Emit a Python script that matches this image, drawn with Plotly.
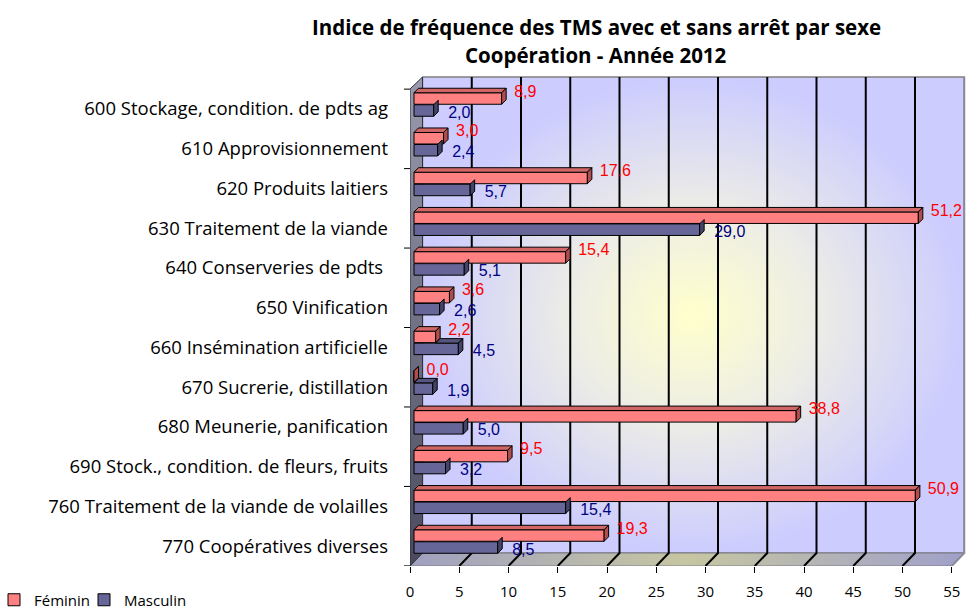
import plotly.graph_objects as go

categories = [
    "600 Stockage, condition. de pdts ag",
    "610 Approvisionnement",
    "620 Produits laitiers",
    "630 Traitement de la viande",
    "640 Conserveries de pdts ",
    "650 Vinification",
    "660 Insémination artificielle",
    "670 Sucrerie, distillation",
    "680 Meunerie, panification",
    "690 Stock., condition. de fleurs, fruits",
    "760 Traitement de la viande de volailles",
    "770 Coopératives diverses",
]
feminin = [8.9, 3.0, 17.6, 51.2, 15.4, 3.6, 2.2, 0.0, 38.8, 9.5, 50.9, 19.3]
masculin = [2.0, 2.4, 5.7, 29.0, 5.1, 2.6, 4.5, 1.9, 5.0, 3.2, 15.4, 8.5]
x_ticks = [0, 5, 10, 15, 20, 25, 30, 35, 40, 45, 50, 55]
title_lines = ["Indice de fréquence des TMS avec et sans arrêt par sexe",
               "Coopération - Année 2012"]

# ---- geometry (pixels -> axis units) ----
W, H = 968, 612
PL, PT, PB = 410, 70, 566          # plot left / top / bottom in px
PW, PH = W - PL, PB - PT
SX = 9.85                          # px per x unit
X_MAX = PW / SX
Y0, SY = 109.0, 39.73              # px of first category centre, px per category

def uy(px):
    return (px - Y0) / SY

def ux(px):
    return px / SX

Y_TOP_R, Y_BOT_R = uy(PT), uy(PB)
FRONT, BACK = uy(566), uy(553)
TOP, TOPF = uy(77), uy(89)
DX = ux(12.5)
AXMAX = x_ticks[-1]

BASE = ux(4)            # bars sit slightly behind the front edge
BW = 11.5 / SY          # bar thickness
OFF_F = -10.5 / SY
OFF_M = 1.5 / SY
DDX, DDY = ux(4.5), 4.5 / SY   # bar depth

idx = list(range(len(categories)))
yf = [i + OFF_F for i in idx]
ym = [i + OFF_M for i in idx]

RED, RED_TOP, RED_SIDE = "#FF8080", "#D06666", "#B04E4E"
BLU, BLU_TOP, BLU_SIDE = "#666699", "#55557F", "#44446A"

fig = go.Figure()

# back wall with radial gradient
fig.add_trace(go.Scatter(
    x=[DX, AXMAX + DX, AXMAX + DX, DX, DX],
    y=[TOP, TOP, BACK, BACK, TOP],
    mode="lines", line=dict(color="#808080", width=1.5),
    fill="toself",
    fillgradient=dict(type="radial",
                      colorscale=[[0, "#FFFFCC"], [0.45, "#EDEDE6"], [1, "#CCCCFF"]]),
    hoverinfo="skip", showlegend=False))

# floor
fig.add_trace(go.Scatter(
    x=[0, AXMAX, AXMAX + DX, DX, 0],
    y=[FRONT, FRONT, BACK, BACK, FRONT],
    mode="lines", line=dict(color="#7A7A8A", width=1),
    fill="toself",
    fillgradient=dict(type="horizontal",
                      colorscale=[[0, "#A0A0C0"], [0.5, "#C6C6A2"], [1, "#A0A0CA"]]),
    hoverinfo="skip", showlegend=False))

# left wall
fig.add_trace(go.Scatter(
    x=[0, 0, DX, DX, 0],
    y=[FRONT, TOPF, TOP, BACK, FRONT],
    mode="lines", line=dict(color="#303040", width=1),
    fill="toself",
    fillgradient=dict(type="vertical",
                      colorscale=[[0, "#4A4A5C"], [1, "#9A9AAE"]]),
    hoverinfo="skip", showlegend=False))

# grid lines (floor diagonals + wall verticals)
gx, gy = [], []
for v in x_ticks[1:-1]:
    gx += [v, v + DX, v + DX, None]
    gy += [FRONT, BACK, TOP, None]
fig.add_trace(go.Scatter(x=gx, y=gy, mode="lines",
                         line=dict(color="#000000", width=2),
                         hoverinfo="skip", showlegend=False))
# right edge of the wall / floor
fig.add_trace(go.Scatter(x=[AXMAX, AXMAX + DX, AXMAX + DX], y=[FRONT, BACK, TOP],
                         mode="lines", line=dict(color="#8A8A9A", width=2),
                         hoverinfo="skip", showlegend=False))

# bars (front faces) on an overlaying subplot so they sit above the walls
fig.add_trace(go.Bar(
    y=ym, x=masculin, base=BASE, width=BW, orientation="h", name="Masculin",
    xaxis="x2", yaxis="y2", legend="legend2", hoverinfo="skip",
    marker=dict(color=BLU, line=dict(color="#000000", width=1))))
fig.add_trace(go.Bar(
    y=yf, x=feminin, base=BASE, width=BW, orientation="h", name="Féminin",
    xaxis="x2", yaxis="y2", legend="legend", hoverinfo="skip",
    marker=dict(color=RED, line=dict(color="#000000", width=1))))

# 3D faces of bars as shapes
shapes = []

def poly(pts, fill):
    d = "M " + " L ".join(f"{a},{b}" for a, b in pts) + " Z"
    return dict(type="path", path=d, xref="x2", yref="y2", fillcolor=fill,
                line=dict(color="#000000", width=1), layer="above")

for i in idx:
    v = masculin[i]
    t, b = ym[i] - BW / 2, ym[i] + BW / 2
    e = BASE + v
    s = BASE + max(feminin[i], 0)
    if v > feminin[i]:
        shapes.append(poly([(s, t), (e, t), (e + DDX, t - DDY), (s + DDX, t - DDY)], BLU_TOP))
    shapes.append(poly([(e, t), (e + DDX, t - DDY), (e + DDX, b - DDY), (e, b)], BLU_SIDE))
for i in idx:
    v = feminin[i]
    t, b = yf[i] - BW / 2, yf[i] + BW / 2
    e = BASE + v
    shapes.append(poly([(BASE, t), (e, t), (e + DDX, t - DDY), (BASE + DDX, t - DDY)], RED_TOP))
    shapes.append(poly([(e, t), (e + DDX, t - DDY), (e + DDX, b - DDY), (e, b)], RED_SIDE))

# left category tick marks (every other category boundary)
for k in range(0, len(categories) + 1, 2):
    yy = k - 0.5
    shapes.append(dict(type="line", xref="paper", yref="y",
                       x0=-6 / PW, x1=0, y0=yy, y1=yy,
                       line=dict(color="#000000", width=1), layer="above"))

# data labels
fig.add_trace(go.Scatter(
    x=[BASE + v + DDX + ux(8) for v in feminin],
    y=[y - 6 / SY for y in yf],
    xaxis="x2", yaxis="y2",
    mode="text", text=[f"{v:.1f}".replace(".", ",") for v in feminin],
    textposition="middle right",
    textfont=dict(family="Liberation Sans, Arial", size=16, color="#FF0000"),
    hoverinfo="skip", showlegend=False, cliponaxis=False))
fig.add_trace(go.Scatter(
    x=[BASE + v + DDX + ux(10) for v in masculin],
    y=[y + 3 / SY for y in ym],
    xaxis="x2", yaxis="y2",
    mode="text", text=[f"{v:.1f}".replace(".", ",") for v in masculin],
    textposition="middle right",
    textfont=dict(family="Liberation Sans, Arial", size=16, color="#000080"),
    hoverinfo="skip", showlegend=False, cliponaxis=False))

def px_to_paper(px_x, px_y):
    return (px_x - PL) / PW, (PB - px_y) / PH

annotations = []
for line, py in zip(title_lines, [27, 55]):
    ax, ay = px_to_paper(596, py)
    annotations.append(dict(
        text=f"<b>{line}</b>", x=ax, y=ay, xref="paper", yref="paper",
        showarrow=False, xanchor="center", yanchor="middle",
        font=dict(family="Open Sans, sans-serif", size=20.5, color="#000000")))

leg_font = dict(family="Open Sans, sans-serif", size=15, color="#000000")
lx1, ly = px_to_paper(-6, 600)
lx2, _ = px_to_paper(84, 600)

fig.update_layout(
    width=W, height=H,
    margin=dict(l=PL, r=0, t=PT, b=H - PB, autoexpand=False),
    paper_bgcolor="white", plot_bgcolor="white",
    barmode="overlay",
    hovermode=False,
    font=dict(family="Open Sans, sans-serif", color="#000000"),
    xaxis=dict(range=[0, X_MAX], tickmode="array", tickvals=x_ticks,
               ticktext=[str(t) for t in x_ticks],
               showgrid=False, zeroline=False, showline=False,
               ticks="outside", ticklen=6, tickcolor="#000000",
               ticklabelstandoff=6,
               tickfont=dict(family="Open Sans, sans-serif", size=15, color="#000000")),
    yaxis=dict(range=[Y_BOT_R, Y_TOP_R], tickmode="array", tickvals=idx,
               ticktext=categories, showgrid=False, zeroline=False, showline=False,
               ticks="", ticklabelstandoff=21,
               tickfont=dict(family="Open Sans, sans-serif", size=18.5, color="#000000")),
    xaxis2=dict(range=[0, X_MAX], overlaying="x", visible=False),
    yaxis2=dict(range=[Y_BOT_R, Y_TOP_R], overlaying="y", visible=False),
    legend=dict(orientation="h", x=lx1, xanchor="left", y=ly, yanchor="middle",
                font=leg_font, itemwidth=30, bgcolor="rgba(0,0,0,0)"),
    legend2=dict(orientation="h", x=lx2, xanchor="left", y=ly, yanchor="middle",
                 font=leg_font, itemwidth=30, bgcolor="rgba(0,0,0,0)"),
    shapes=shapes,
    annotations=annotations,
)

fig.write_html("out.html",
               config={"displayModeBar": False},
               post_script="document.body.style.margin='0';document.body.style.overflow='hidden';")
